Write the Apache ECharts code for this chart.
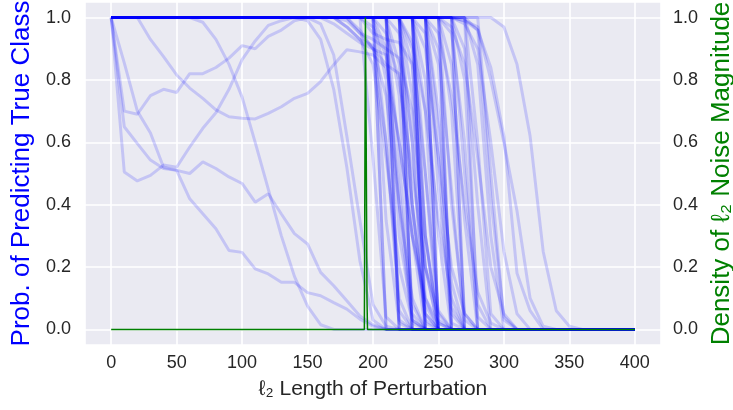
<!DOCTYPE html>
<html><head><meta charset="utf-8">
<script src="https://cdn.jsdelivr.net/npm/echarts@6/dist/echarts.min.js"></script>
<style>html,body{margin:0;padding:0;background:#fff}#c{width:733px;height:410px}</style>
</head><body><div id="c"></div>
<script>
// Blue curves: probability of predicting the true class vs l2 perturbation length ([x, prob] points)
const earlyCurves = [
  [[0,1],[10,0.70],[20,0.69],[30,0.75],[40,0.77],[50,0.76],[60,0.82],[70,0.82],[80,0.84],[90,0.87],[100,0.91],[110,0.90],[120,0.94],[130,0.96],[140,0.99],[150,1],[220,1],[230,0.4],[240,0.05],[250,0],[400,0]],
  [[0,1],[10,0.505],[20,0.476],[30,0.494],[40,0.527],[50,0.52],[60,0.585],[70,0.645],[80,0.695],[90,0.77],[100,0.865],[110,0.925],[120,0.975],[130,0.99],[140,1],[230,1],[240,0.3],[250,0],[400,0]],
  [[0,1],[10,0.65],[20,0.596],[30,0.543],[40,0.516],[50,0.51],[60,0.50],[70,0.537],[80,0.516],[90,0.489],[100,0.468],[110,0.408],[120,0.435],[130,0.37],[140,0.307],[150,0.274],[160,0.183],[170,0.14],[180,0.092],[190,0.043],[200,0.015],[210,0],[400,0]],
  [[0,1],[10,0.855],[20,0.70],[30,0.63],[40,0.52],[50,0.51],[60,0.419],[70,0.371],[80,0.323],[90,0.253],[100,0.247],[110,0.194],[120,0.178],[130,0.151],[140,0.151],[150,0.118],[160,0.108],[170,0.086],[180,0.065],[190,0.033],[200,0.01],[210,0],[400,0]],
  [[0,1],[20,1],[30,0.93],[40,0.875],[50,0.816],[60,0.774],[70,0.741],[80,0.704],[90,0.682],[100,0.677],[110,0.675],[120,0.693],[130,0.714],[140,0.741],[150,0.757],[160,0.795],[170,0.849],[180,0.897],[190,0.89],[200,0.88],[210,0.84],[220,0.6],[230,0.3],[240,0.08],[250,0],[400,0]],
  [[0,1],[60,1],[70,0.985],[80,0.93],[90,0.85],[100,0.745],[110,0.6],[120,0.45],[130,0.3],[140,0.17],[150,0.075],[160,0.015],[170,0],[400,0]],
  [[0,1],[140,1],[150,0.99],[160,0.93],[170,0.77],[180,0.52],[190,0.22],[200,0.03],[210,0],[400,0]],
  [[0,1],[150,1],[160,0.98],[170,0.88],[180,0.62],[190,0.35],[200,0.08],[210,0.01],[220,0],[400,0]]
];
// curves that drop in a single sampling step: [last x at 1.0, count]
const sharpDrops = [[200,2],[210,3],[220,3],[230,3],[240,3],[250,2],[260,2],[270,1]];
// curves that drop in two steps with a small tail: [last x at 1.0, middle value, tail value]
const twoStepDrops = [[190,0.55,0.04],[200,0.35,0.02],[200,0.6,0.06],[200,0.8,0.03],[210,0.3,0.05],[210,0.55,0.02],[210,0.75,0.08],[220,0.4,0.03],[220,0.6,0.05],[220,0.85,0.1],[230,0.3,0.02],[230,0.5,0.06],[230,0.7,0.03],[240,0.45,0.05],[240,0.65,0.02],[240,0.85,0.07],[250,0.4,0.03],[250,0.7,0.05],[260,0.5,0.04],[260,0.8,0.08],[270,0.6,0.05],[280,0.5,0.03]];
// curves that drop in three steps: [last x at 1.0, first value, second value]
const threeStepDrops = [[200,0.9,0.4],[210,0.85,0.3],[210,0.95,0.6],[220,0.9,0.5],[220,0.75,0.2],[230,0.95,0.55],[230,0.8,0.3],[240,0.9,0.45],[240,0.7,0.15],[250,0.85,0.35],[250,0.95,0.6],[260,0.9,0.4],[270,0.85,0.3]];
const gradualCurves = [
  [[0,1],[160,1],[170,0.98],[180,0.95],[190,0.92],[200,0.9],[210,0.88],[220,0.45],[230,0.03],[240,0],[400,0]],
  [[0,1],[170,1],[180,0.97],[190,0.93],[200,0.91],[210,0.6],[220,0.1],[230,0],[400,0]],
  [[0,1],[180,1],[190,0.96],[200,0.9],[210,0.85],[220,0.82],[230,0.4],[240,0.02],[250,0],[400,0]],
  [[0,1],[170,1],[180,0.99],[190,0.95],[200,0.93],[210,0.9],[220,0.87],[230,0.7],[240,0.2],[250,0],[400,0]],
  [[0,1],[190,1],[200,0.95],[210,0.93],[220,0.92],[230,0.85],[240,0.3],[250,0],[400,0]],
  [[0,1],[170,1],[180,0.97],[190,0.93],[200,0.85],[210,0.55],[220,0.2],[230,0.03],[240,0],[400,0]],
  [[0,1],[180,1],[190,0.95],[200,0.9],[210,0.75],[220,0.4],[230,0.1],[240,0],[400,0]],
  [[0,1],[190,1],[200,0.97],[210,0.88],[220,0.6],[230,0.3],[240,0.1],[250,0.02],[260,0],[400,0]],
  [[0,1],[200,1],[210,0.95],[220,0.8],[230,0.5],[240,0.2],[250,0.05],[260,0],[400,0]],
  [[0,1],[220,1],[230,0.92],[240,0.7],[250,0.35],[260,0.1],[270,0],[400,0]],
  [[0,1],[230,1],[240,0.9],[250,0.55],[260,0.2],[270,0.05],[280,0],[400,0]],
  [[0,1],[240,1],[250,0.95],[260,0.75],[270,0.4],[280,0.12],[290,0.02],[300,0],[400,0]],
  [[0,1],[250,1],[260,0.97],[270,0.85],[280,0.55],[290,0.2],[300,0.05],[310,0],[400,0]],
  [[0,1],[260,1],[270,0.98],[280,0.9],[290,0.6],[300,0.25],[310,0.05],[320,0],[400,0]],
  [[0,1],[290,1],[300,0.97],[310,0.85],[320,0.62],[330,0.25],[340,0.06],[350,0.01],[360,0],[400,0]],
  [[0,1],[260,1],[270,0.99],[280,0.96],[290,0.84],[300,0.62],[310,0.18],[320,0.06],[330,0],[400,0]],
  [[0,1],[260,1],[270,0.99],[280,0.97],[290,0.8],[300,0.6],[310,0.38],[320,0.1],[330,0.01],[340,0],[400,0]],
  [[0,1],[270,1],[280,0.96],[290,0.42],[300,0.04],[310,0],[400,0]]
];
// Green: density of l2 noise magnitude (right axis)
const densityX = [0, 193.4, 193.8, 194.2, 194.8, 195.4, 195.8, 400];
const densityY = [0, 0, 0.5, 1.0, 0.6, 0.1, 0, 0];

const series = [];
const blueStyle = {color:'#0000FF', width:3, opacity:0.16};
function addBlue(pts){
  series.push({type:'line', yAxisIndex:0, data:pts, symbol:'none', silent:true, animation:false,
    lineStyle:blueStyle, itemStyle:{color:'#0000FF'}, z:2});
}
earlyCurves.forEach(addBlue);
sharpDrops.forEach(([a,n])=>{ for(let i=0;i<n;i++) addBlue([[0,1],[a,1],[a+10,0],[400,0]]); });
twoStepDrops.forEach(([a,v,t])=>addBlue([[0,1],[a,1],[a+10,v],[a+20,t],[a+30,0],[400,0]]));
threeStepDrops.forEach(([a,v1,v2])=>addBlue([[0,1],[a,1],[a+10,v1],[a+20,v2],[a+30,0],[400,0]]));
gradualCurves.forEach(addBlue);
series.push({type:'line', yAxisIndex:1, data:densityX.map((x,i)=>[x,densityY[i]]), symbol:'none', silent:true,
  animation:false, lineStyle:{color:'#008000', width:1.5}, itemStyle:{color:'#008000'}, z:5});

const font = 'Liberation Sans, Arial, DejaVu Sans, sans-serif';
const chart = echarts.init(document.getElementById('c'), null, {renderer:'canvas'});
chart.setOption({
  backgroundColor:'#ffffff',
  animation:false,
  grid:{left:85, right:72, top:2, bottom:65, show:true, backgroundColor:'#EAEAF2', borderWidth:0,
    containLabel:false, outerBoundsMode:'none'},
  xAxis:{type:'value', min:-20, max:420, splitNumber:9,
    axisLine:{show:false}, axisTick:{show:false},
    axisLabel:{color:'#262626', fontSize:18, fontFamily:font, margin:9, showMinLabel:false, showMaxLabel:false},
    splitLine:{show:true, lineStyle:{color:'#ffffff', width:1.6}},
    name:'ℓ₂ Length of Perturbation', nameLocation:'middle', nameGap:34,
    nameTextStyle:{color:'#262626', fontSize:21, fontFamily:font}},
  yAxis:[
    {type:'value', min:-0.05, max:1.05, splitNumber:6, position:'left',
     axisLine:{show:false}, axisTick:{show:false},
     axisLabel:{color:'#262626', fontSize:18, fontFamily:font, margin:14, showMinLabel:false, showMaxLabel:false,
       formatter:v=>v.toFixed(1)},
     splitLine:{show:true, lineStyle:{color:'#ffffff', width:1.6}},
     name:'Prob. of Predicting True Class', nameLocation:'middle', nameGap:49, nameRotate:90,
     nameTextStyle:{color:'#0000FF', fontSize:26, fontFamily:font}},
    {type:'value', min:-0.05, max:1.05, splitNumber:6, position:'right',
     axisLine:{show:false}, axisTick:{show:false},
     axisLabel:{color:'#262626', fontSize:18, fontFamily:font, margin:12, showMinLabel:false, showMaxLabel:false,
       formatter:v=>v.toFixed(1)},
     splitLine:{show:false},
     name:'Density of ℓ₂ Noise Magnitude', nameLocation:'middle', nameGap:46, nameRotate:90,
     nameTextStyle:{color:'#008000', fontSize:26, fontFamily:font}}
  ],
  series:series
});
</script></body></html>
